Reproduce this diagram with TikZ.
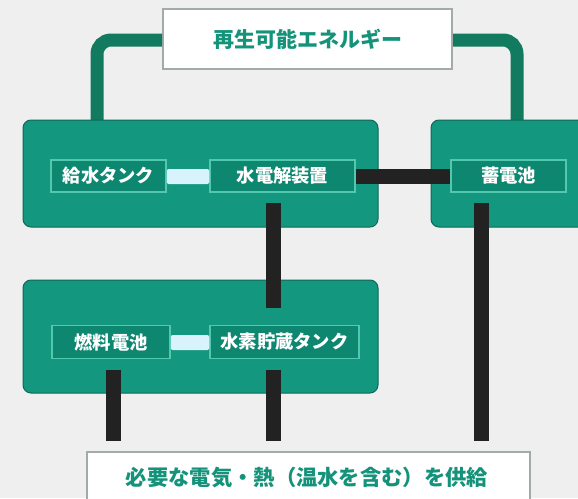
\documentclass[tikz,border=0pt]{standalone}
\usepackage{fontspec}
\newfontfamily\jp{Noto Sans CJK JP}
\definecolor{bg}{HTML}{EFEFEF}
\definecolor{boxgreen}{HTML}{13977F}
\definecolor{innergreen}{HTML}{0D8770}
\definecolor{innerborder}{HTML}{52C8AE}
\definecolor{linkgreen}{HTML}{127A5F}
\definecolor{tealtext}{HTML}{14937A}
\definecolor{graybord}{HTML}{A3ABA7}
\definecolor{blackline}{HTML}{222222}
\begin{document}
\begin{tikzpicture}[x=1pt,y=-1pt,
  bigbox/.style={fill=boxgreen,draw=boxgreen!70!black,line width=1pt,rounded corners=8pt},
  innerbox/.style={fill=innergreen,draw=innerborder,line width=1.5pt,text=white,inner sep=0pt,font=\jp\bfseries\fontsize{18.3}{18}\selectfont},
  whitebox/.style={fill=white,draw=graybord,line width=2pt,text=tealtext,inner sep=0pt},
  glink/.style={draw=linkgreen,line width=13pt,rounded corners=14pt},
  blink/.style={draw=blackline,line width=15pt},
  wlink/.style={fill=white!85!cyan,draw=none}]
\useasboundingbox (0,0) rectangle (578,498);
\fill[bg] (0,0) rectangle (578,498);
% top node
\node[whitebox,minimum width=289pt,minimum height=60pt,font=\jp\bfseries\fontsize{21}{21}\selectfont] (ren) at (307.5,39) {再生可能エネルギー};
\coordinate (gl) at (97,120);
\coordinate (gr) at (517,120);
% green connectors
\draw[glink] (ren.west |- 0,40) -- (97,40) -- (gl);
\draw[glink] (ren.east |- 0,40) -- (517,40) -- (gr);
% big boxes
\node[bigbox,minimum width=355pt,minimum height=107pt,inner sep=0pt] (box1) at (200.5,173.5) {};
\node[bigbox,minimum width=160pt,minimum height=107pt,inner sep=0pt] (box3) at (511,173.5) {};
\node[bigbox,minimum width=355pt,minimum height=113pt,inner sep=0pt] (box2) at (200.5,336.5) {};
% inner nodes
\node[innerbox,minimum width=115pt,minimum height=32pt] (kyusui) at (108.5,176) {給水タンク};
\node[innerbox,minimum width=145pt,minimum height=32pt] (denkai) at (282.5,176) {水電解装置};
\node[innerbox,minimum width=115pt,minimum height=32pt] (chiku) at (508.5,176) {蓄電池};
\node[innerbox,minimum width=118pt,minimum height=33pt] (nenryo) at (111,342) {燃料電池};
\node[innerbox,minimum width=149pt,minimum height=33pt] (suiso) at (284.5,342) {水素貯蔵タンク};
% white small connectors
\fill[wlink,rounded corners=2pt] (kyusui.east |- 0,169) rectangle (denkai.west |- 0,184);
\fill[wlink,rounded corners=2pt] (nenryo.east |- 0,335) rectangle (suiso.west |- 0,350);
% bottom node
\node[whitebox,minimum width=443pt,minimum height=60pt,anchor=north west] (supply) at (86,451) {};
\node[text=tealtext,font=\jp\bfseries\fontsize{21.3}{21}\selectfont] at (307,478) {必要な電気・熱（温水を含む）を供給};
% black connectors
\coordinate (s1) at (113,441);
\coordinate (s2) at (273,441);
\coordinate (s3) at (481,441);
\draw[blink] (denkai.east) -- (chiku.west);
\draw[blink] (273,203) -- (273,308);
\draw[blink] (481,203) -- (s3);
\draw[blink] (113,370) -- (s1);
\draw[blink] (273,370) -- (s2);
\end{tikzpicture}
\end{document}
